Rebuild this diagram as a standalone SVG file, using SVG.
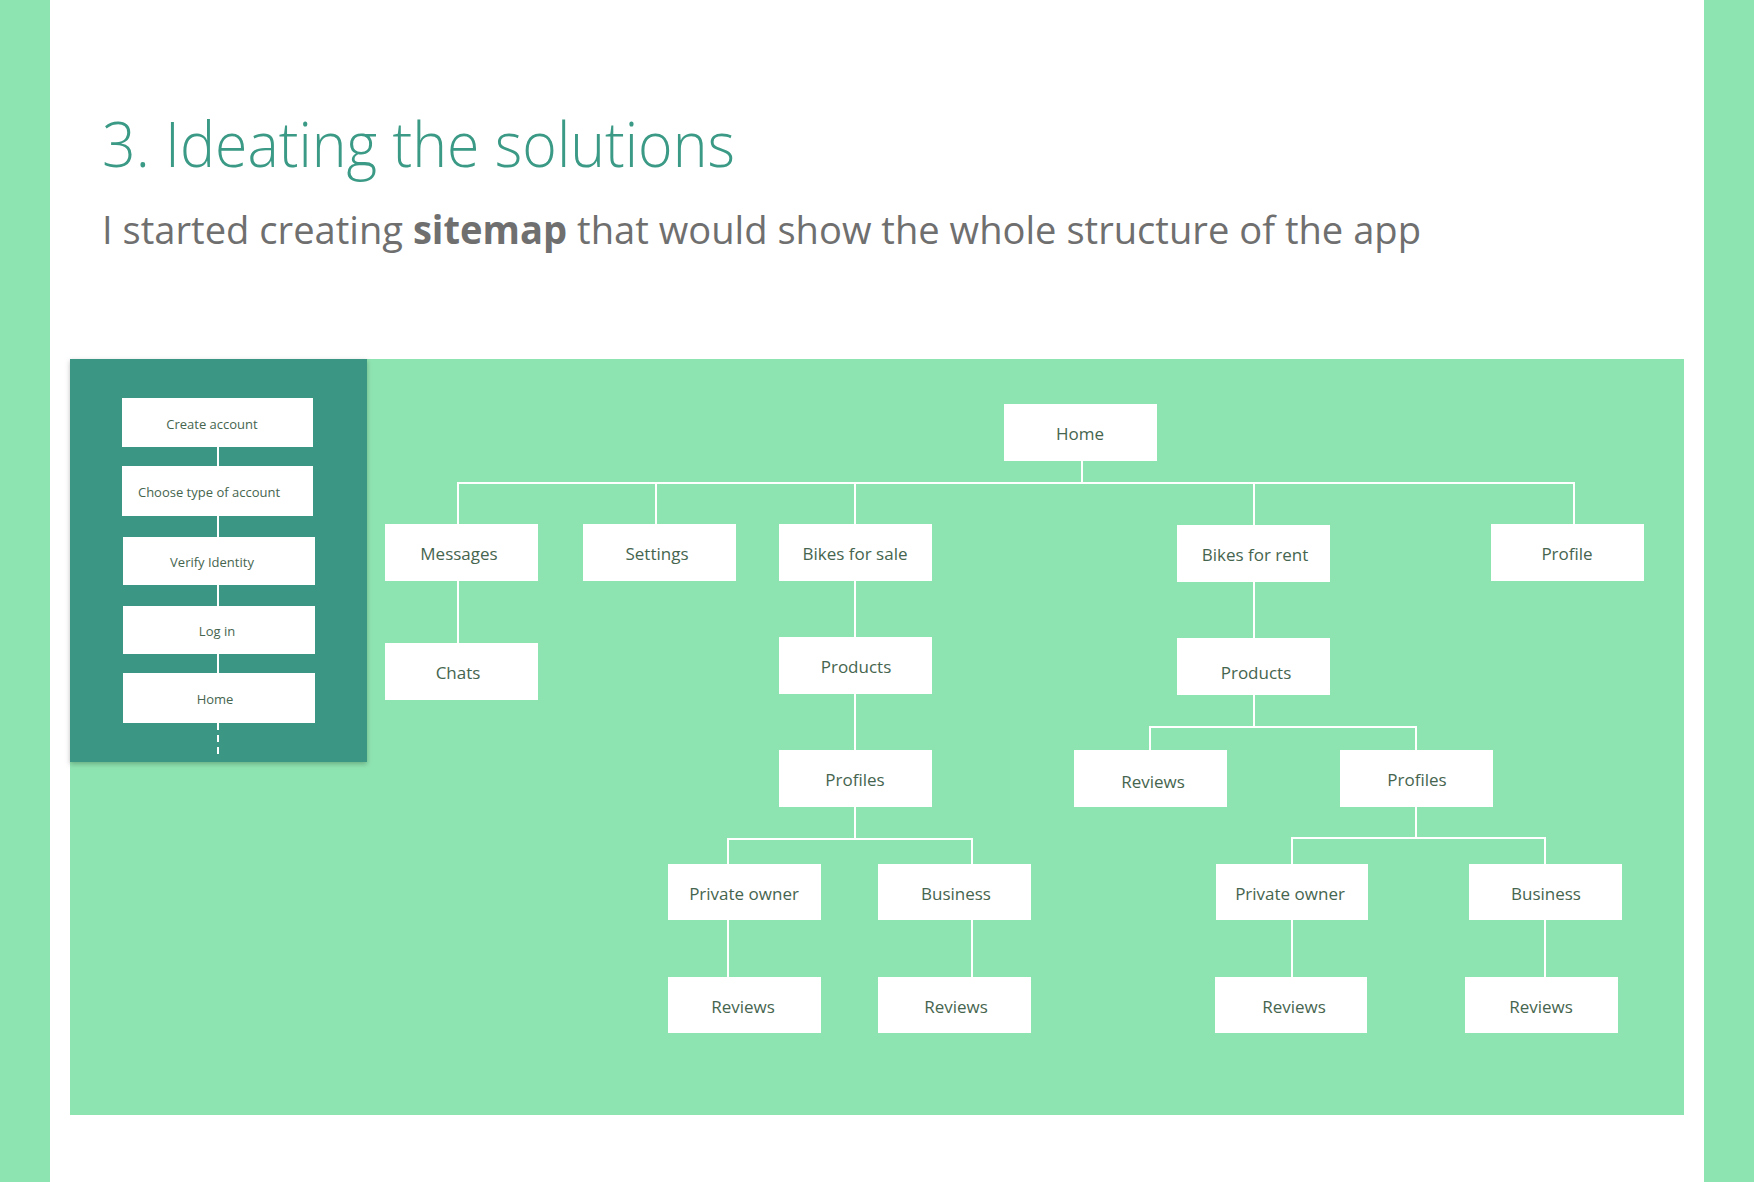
<svg xmlns="http://www.w3.org/2000/svg" width="1754" height="1182" viewBox="0 0 1754 1182">
<defs>
<style>
.bg{fill:#8ee4b0}
.box{fill:#ffffff}
.lbl{font-family:"Open Sans","Noto Sans",sans-serif;font-size:17px;fill:#46654f;text-anchor:middle}
.sl{font-family:"Open Sans","Noto Sans",sans-serif;font-size:13px;fill:#46654f;text-anchor:middle}
.ln{stroke:#ffffff;stroke-width:2;fill:none}
</style>
<filter id="sh" x="-10%" y="-10%" width="120%" height="120%">
<feDropShadow dx="0" dy="2" stdDeviation="2.5" flood-color="#000000" flood-opacity="0.25"/>
</filter>
</defs>
<rect width="1754" height="1182" fill="#ffffff"/>
<rect class="bg" x="0" y="0" width="50" height="1182"/>
<rect class="bg" x="1704" y="0" width="50" height="1182"/>
<text x="102" y="167" font-family="'Open Sans','Noto Sans',sans-serif" font-weight="300" font-size="62" fill="#3a9a85" textLength="633" lengthAdjust="spacingAndGlyphs">3. Ideating the solutions</text>
<text x="102" y="244" font-family="'Open Sans','Noto Sans',sans-serif" font-size="39" fill="#6f6f6f" textLength="1319" lengthAdjust="spacingAndGlyphs">I started creating <tspan font-weight="700">sitemap</tspan> that would show the whole structure of the app</text>
<rect class="bg" x="70" y="359" width="1614" height="756"/>
<g id="onboarding">
<rect x="70" y="359" width="297" height="403" fill="#3a9683" filter="url(#sh)"/>
<g id="connectors-left">
<line class="ln" x1="218" y1="447" x2="218" y2="673"/>
<line class="ln" x1="218" y1="723" x2="218" y2="757" stroke-dasharray="7,5"/>
</g>
<g id="n-create"><rect class="box" x="122" y="398" width="191" height="49"/><text class="sl" x="212" y="429">Create account</text></g>
<g id="n-choose"><rect class="box" x="122" y="466" width="191" height="50"/><text class="sl" x="209" y="497">Choose type of account</text></g>
<g id="n-verify"><rect class="box" x="123" y="537" width="192" height="48"/><text class="sl" x="212" y="567">Verify Identity</text></g>
<g id="n-login"><rect class="box" x="123" y="606" width="192" height="48"/><text class="sl" x="217" y="636">Log in</text></g>
<g id="n-home-left"><rect class="box" x="123" y="673" width="192" height="50"/><text class="sl" x="215" y="704">Home</text></g>
</g>
<g id="connectors">
<line class="ln" x1="1082" y1="461" x2="1082" y2="483"/>
<line class="ln" x1="457" y1="483" x2="1575" y2="483"/>
<line class="ln" x1="458" y1="483" x2="458" y2="643"/>
<line class="ln" x1="656" y1="483" x2="656" y2="524"/>
<line class="ln" x1="855" y1="483" x2="855" y2="839"/>
<line class="ln" x1="1254" y1="483" x2="1254" y2="727"/>
<line class="ln" x1="1574" y1="483" x2="1574" y2="524"/>
<polyline class="ln" points="728,977 728,839 972,839 972,977"/>
<polyline class="ln" points="1150,750 1150,727 1416,727 1416,750"/>
<line class="ln" x1="1416" y1="807" x2="1416" y2="838"/>
<polyline class="ln" points="1292,977 1292,838 1545,838 1545,977"/>
</g>
<g id="n-home"><rect class="box" x="1004" y="404" width="153" height="57"/><text class="lbl" x="1080" y="440">Home</text></g>
<g id="n-messages"><rect class="box" x="385" y="524" width="153" height="57"/><text class="lbl" x="459" y="560">Messages</text></g>
<g id="n-settings"><rect class="box" x="583" y="524" width="153" height="57"/><text class="lbl" x="657" y="560">Settings</text></g>
<g id="n-bikes-sale"><rect class="box" x="779" y="524" width="153" height="57"/><text class="lbl" x="855" y="560">Bikes for sale</text></g>
<g id="n-bikes-rent"><rect class="box" x="1177" y="525" width="153" height="57"/><text class="lbl" x="1255" y="561">Bikes for rent</text></g>
<g id="n-profile"><rect class="box" x="1491" y="524" width="153" height="57"/><text class="lbl" x="1567" y="560">Profile</text></g>
<g id="n-chats"><rect class="box" x="385" y="643" width="153" height="57"/><text class="lbl" x="458" y="679">Chats</text></g>
<g id="n-products-sale"><rect class="box" x="779" y="637" width="153" height="57"/><text class="lbl" x="856" y="673">Products</text></g>
<g id="n-products-rent"><rect class="box" x="1177" y="638" width="153" height="57"/><text class="lbl" x="1256" y="679">Products</text></g>
<g id="n-profiles-sale"><rect class="box" x="779" y="750" width="153" height="57"/><text class="lbl" x="855" y="786">Profiles</text></g>
<g id="n-reviews-rent"><rect class="box" x="1074" y="750" width="153" height="57"/><text class="lbl" x="1153" y="788">Reviews</text></g>
<g id="n-profiles-rent"><rect class="box" x="1340" y="750" width="153" height="57"/><text class="lbl" x="1417" y="786">Profiles</text></g>
<g id="n-private-sale"><rect class="box" x="668" y="864" width="153" height="56"/><text class="lbl" x="744" y="900">Private owner</text></g>
<g id="n-business-sale"><rect class="box" x="878" y="864" width="153" height="56"/><text class="lbl" x="956" y="900">Business</text></g>
<g id="n-private-rent"><rect class="box" x="1216" y="864" width="152" height="56"/><text class="lbl" x="1290" y="900">Private owner</text></g>
<g id="n-business-rent"><rect class="box" x="1469" y="864" width="153" height="56"/><text class="lbl" x="1546" y="900">Business</text></g>
<g id="n-reviews-po-sale"><rect class="box" x="668" y="977" width="153" height="56"/><text class="lbl" x="743" y="1013">Reviews</text></g>
<g id="n-reviews-bu-sale"><rect class="box" x="878" y="977" width="153" height="56"/><text class="lbl" x="956" y="1013">Reviews</text></g>
<g id="n-reviews-po-rent"><rect class="box" x="1215" y="977" width="152" height="56"/><text class="lbl" x="1294" y="1013">Reviews</text></g>
<g id="n-reviews-bu-rent"><rect class="box" x="1465" y="977" width="153" height="56"/><text class="lbl" x="1541" y="1013">Reviews</text></g>
</svg>
